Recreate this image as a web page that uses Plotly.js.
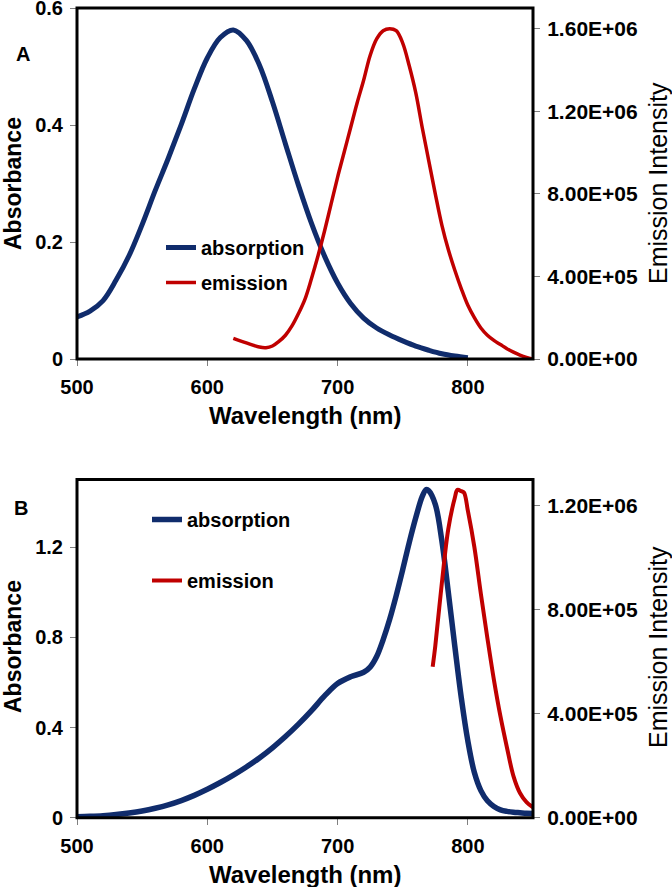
<!DOCTYPE html>
<html>
<head>
<meta charset="utf-8">
<script src="https://cdn.plot.ly/plotly-3.0.1.min.js"></script>
<style>
  html, body { margin: 0; padding: 0; background: #fff; }
  #chart { width: 672px; height: 887px; }
</style>
</head>
<body>
<div id="chart"></div>
<script>
// ---- panel A data ----
const wlAbsA = [500, 510, 520, 530, 540, 550, 560, 570, 580, 590, 600, 610, 620, 630, 640, 650,
  660, 670, 680, 690, 700, 710, 720, 730, 740, 750, 760, 770, 780, 790, 800];
const absA = [0.072, 0.082, 0.100, 0.135, 0.177, 0.230, 0.288, 0.343, 0.401, 0.462, 0.515, 0.550,
  0.563, 0.545, 0.503, 0.440, 0.368, 0.297, 0.232, 0.176, 0.130, 0.095, 0.070, 0.053, 0.041, 0.031,
  0.022, 0.015, 0.009, 0.005, 0.002];

const wlEmA = [620, 630, 640, 645, 650, 655, 660, 665, 670, 675, 680, 685, 690, 695, 700, 705, 710,
  715, 720, 725, 730, 735, 740, 745, 750, 755, 760, 765, 770, 775, 780, 785, 790, 795, 800, 805,
  810, 815, 820, 825, 830, 835, 840, 845, 850];
const emA = [1.0e5, 7.8e4, 5.8e4, 5.5e4, 6.3e4, 8.5e4, 1.15e5, 1.6e5, 2.2e5, 2.9e5, 3.9e5, 5.0e5,
  6.2e5, 7.5e5, 8.8e5, 1.0e6, 1.12e6, 1.24e6, 1.35e6, 1.47e6, 1.55e6, 1.59e6, 1.60e6, 1.59e6,
  1.53e6, 1.42e6, 1.29e6, 1.12e6, 9.6e5, 8.0e5, 6.5e5, 5.3e5, 4.3e5, 3.4e5, 2.6e5, 2.0e5, 1.5e5,
  1.15e5, 9.0e4, 7.0e4, 5.0e4, 3.3e4, 1.9e4, 8e3, 0];

// ---- panel B data ----
const wlAbsB = [500, 510, 520, 530, 540, 550, 560, 570, 580, 590, 600, 610, 620, 630, 640, 650, 660,
  670, 680, 690, 700, 710, 720, 725, 730, 735, 740, 745, 750, 755, 760, 765, 768, 770, 775, 780,
  785, 790, 795, 800, 805, 810, 815, 820, 825, 830, 835, 840, 845, 850];
const absB = [0.004, 0.006, 0.009, 0.014, 0.021, 0.030, 0.042, 0.057, 0.076, 0.099, 0.126, 0.156,
  0.189, 0.225, 0.265, 0.31, 0.36, 0.415, 0.475, 0.54, 0.595, 0.625, 0.645, 0.668, 0.715, 0.79,
  0.88, 0.985, 1.10, 1.22, 1.33, 1.425, 1.455, 1.45, 1.39, 1.23, 1.00, 0.76, 0.53, 0.34, 0.20, 0.12,
  0.075, 0.05, 0.035, 0.028, 0.024, 0.022, 0.02, 0.019];

const wlEmB = [773, 775, 780, 785, 790, 792, 795, 797, 800, 805, 810, 815, 820, 825, 830, 835, 840,
  845, 850];
const emB = [5.8e5, 6.6e5, 9.0e5, 1.11e6, 1.23e6, 1.26e6, 1.255e6, 1.25e6, 1.18e6, 1.04e6, 8.6e5,
  6.9e5, 5.3e5, 3.9e5, 2.7e5, 1.6e5, 9.5e4, 6e4, 4e4];

// ---- ticks ----
const wlTicks = [500, 600, 700, 800];
const absTicksA = [0, 0.2, 0.4, 0.6];
const absTicksB = [0, 0.4, 0.8, 1.2];
const emTicksA = [0, 4e5, 8e5, 1.2e6, 1.6e6];
const emLabelsA = ['0.00E+00', '4.00E+05', '8.00E+05', '1.20E+06', '1.60E+06'];
const emTicksB = [0, 4e5, 8e5, 1.2e6];
const emLabelsB = ['0.00E+00', '4.00E+05', '8.00E+05', '1.20E+06'];

const BLUE = '#102c6c';
const RED = '#c00000';
const FONT = 'Liberation Sans, Arial, sans-serif';

// pixel -> paper helpers for a 672x887 page
const W = 672, H = 887;
const px = x => x / W;
const py = y => 1 - y / H;

const traces = [
  { x: wlAbsA, y: absA, name: 'absorption', type: 'scatter', mode: 'lines', xaxis: 'x', yaxis: 'y',
    line: { color: BLUE, width: 5, shape: 'spline' }, legend: 'legend', legendgroup: 'a' },
  { x: wlEmA, y: emA, name: 'emission', type: 'scatter', mode: 'lines', xaxis: 'x', yaxis: 'y2',
    line: { color: RED, width: 3.5, shape: 'spline' }, legend: 'legend', legendgroup: 'e' },
  { x: wlAbsB, y: absB, name: 'absorption', type: 'scatter', mode: 'lines', xaxis: 'x2', yaxis: 'y3',
    line: { color: BLUE, width: 5.5, shape: 'spline' }, legend: 'legend2', legendgroup: 'a2' },
  { x: wlEmB, y: emB, name: 'emission', type: 'scatter', mode: 'lines', xaxis: 'x2', yaxis: 'y4',
    line: { color: RED, width: 4, shape: 'spline' }, legend: 'legend2', legendgroup: 'e2' }
];

// shared axis look (the black frame is drawn as a shape below)
const tickStyle = {
  showline: false, showgrid: false, zeroline: false,
  ticks: 'outside', ticklen: 6, tickwidth: 1, tickcolor: '#808080',
  ticklabeloverflow: 'allow'
};
const leftAxis = Object.assign({}, tickStyle, {
  ticklabelstandoff: 3,
  tickfont: { family: FONT, size: 20, weight: 'bold', color: '#000' }
});
const bottomAxis = Object.assign({}, tickStyle, {
  ticklabelstandoff: 4,
  tickfont: { family: FONT, size: 20, weight: 'bold', color: '#000' }
});
const rightAxis = Object.assign({}, tickStyle, {
  side: 'right', ticklabelstandoff: 3,
  tickfont: { family: FONT, size: 21, weight: 'bold', color: '#000' }
});

const xDom = [px(77), px(533)];

const frame = (xr, yr) => ({
  type: 'rect', xref: xr, yref: yr, x0: 0, x1: 1, y0: 0, y1: 1,
  line: { color: '#000', width: 3 }, layer: 'above'
});

const layout = {
  width: W, height: H,
  margin: { l: 0, r: 0, t: 0, b: 0 },
  paper_bgcolor: '#fff', plot_bgcolor: '#fff',
  font: { family: FONT, color: '#000' },
  showlegend: true,
  xaxis: Object.assign({}, bottomAxis, { domain: xDom, anchor: 'y', range: [500, 850], tickvals: wlTicks }),
  yaxis: Object.assign({}, leftAxis, { domain: [py(359), py(8)], anchor: 'x', range: [0, 0.6005], tickvals: absTicksA }),
  yaxis2: Object.assign({}, rightAxis, { overlaying: 'y', anchor: 'x', range: [0, 1.7e6],
    tickvals: emTicksA, ticktext: emLabelsA }),
  xaxis2: Object.assign({}, bottomAxis, { domain: xDom, anchor: 'y3', range: [500, 850], tickvals: wlTicks }),
  yaxis3: Object.assign({}, leftAxis, { domain: [py(817.7), py(479.5)], anchor: 'x2', range: [0, 1.5], tickvals: absTicksB }),
  yaxis4: Object.assign({}, rightAxis, { overlaying: 'y3', anchor: 'x2', range: [0, 1.3e6],
    tickvals: emTicksB, ticktext: emLabelsB }),
  shapes: [frame('x domain', 'y domain'), frame('x2 domain', 'y3 domain')],
  legend: { x: px(161), y: py(228), xanchor: 'left', yanchor: 'top', bgcolor: 'rgba(0,0,0,0)',
    font: { family: FONT, size: 20, weight: 'bold', color: '#000' }, tracegroupgap: 6 },
  legend2: { x: px(147), y: py(500), xanchor: 'left', yanchor: 'top', bgcolor: 'rgba(0,0,0,0)',
    font: { family: FONT, size: 20, weight: 'bold', color: '#000' }, tracegroupgap: 32 },
  annotations: [
    { text: 'A', x: px(22.5), y: py(53.5) },
    { text: 'B', x: px(20.5), y: py(507.5) },
    { text: 'Absorbance', x: px(13), y: py(184), textangle: -90, font: { size: 23 } },
    { text: 'Absorbance', x: px(13), y: py(647), textangle: -90, font: { size: 23 } },
    { text: 'Emission Intensity', x: px(658), y: py(183), textangle: -90, font: { size: 25, weight: 'normal' } },
    { text: 'Emission Intensity', x: px(658), y: py(647), textangle: -90, font: { size: 25, weight: 'normal' } },
    { text: 'Wavelength (nm)', x: px(305), y: py(415), font: { size: 24 } },
    { text: 'Wavelength (nm)', x: px(305), y: py(874), font: { size: 24 } }
  ].map(a => Object.assign({
    xref: 'paper', yref: 'paper', xanchor: 'center', yanchor: 'middle', showarrow: false
  }, a, { font: Object.assign({ family: FONT, color: '#000', size: 20, weight: 'bold' }, a.font || {}) }))
};

Plotly.newPlot('chart', traces, layout, { staticPlot: true });
</script>
</body>
</html>
